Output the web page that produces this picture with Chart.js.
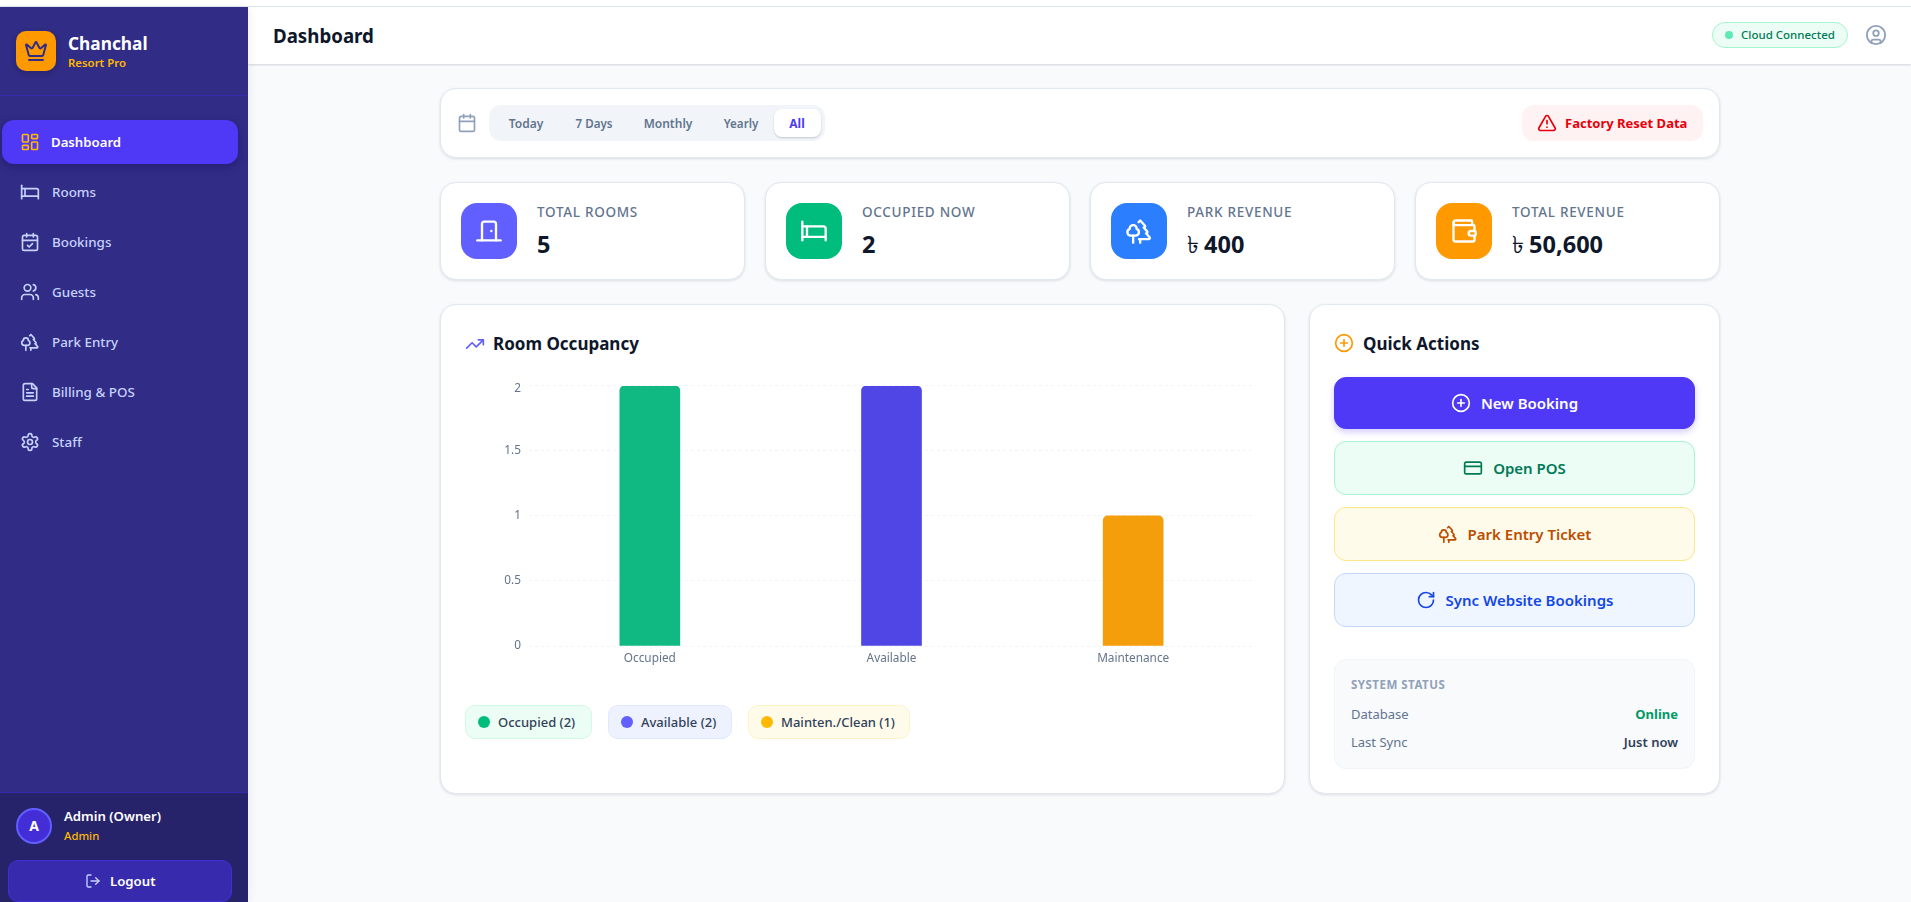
<!DOCTYPE html>
<html>
<head>
<meta charset="utf-8">
<title>Dashboard</title>
<script src="https://cdn.jsdelivr.net/npm/chart.js@4"></script>
<style>
  * { box-sizing: border-box; }
  html, body { margin: 0; width: 1911px; height: 902px; overflow: hidden; background: #f8fafc; font-family: "Noto Sans", sans-serif; color: #0f172b; }
  .abs, .card, .item, .btn, .stat-icon { position: absolute; }
  .abs { white-space: nowrap; line-height: 1; }
  .card { background: #fff; border: 1px solid #e2e8f0; border-radius: 16px; box-shadow: 0 1px 3px rgba(15,23,42,.12); }
  svg { fill: none; stroke: currentColor; stroke-width: 2; stroke-linecap: round; stroke-linejoin: round; display: block; }
  .icon { position: absolute; }
  #sidebar { position: absolute; left: 0; top: 7px; width: 248px; height: 895px; background: #312c85; box-shadow: 2px 0 8px rgba(15,23,42,.06); }
  .item { left: 2px; width: 236px; height: 44px; border-radius: 12px; color: #c6d2ff; font-size: 13.4px; font-weight: 500; }
  .item span { position: absolute; left: 50px; top: 12px; line-height: 20px; }
  .item .icon { left: 18px; top: 12px; }
  .item.active { background: #4f39f6; color: #fff; font-size: 13.2px; font-weight: 600; box-shadow: 0 3px 8px rgba(20,15,90,.4); }
  .item.active span { left: 49px; }
  .item.active .icon { color: #ffb900; }
  .btn { left: 1334px; width: 361px; border-radius: 12px; border: 1px solid; display: flex; align-items: center; justify-content: center; gap: 10px; font-size: 15px; font-weight: 600; }
  .stat-icon { top: 203px; width: 56px; height: 56px; border-radius: 16px; color: #fff; }
  .stat-icon .icon { left: 14px; top: 14px; }
  .stat-label { top: 206px; font-size: 13.5px; font-weight: 500; color: #62748e; letter-spacing: .7px; }
  .stat-value { top: 233px; font-size: 23.5px; font-weight: 700; color: #0f172b; }
  .stat-value b { font-weight: 400; margin-right: -1px; }
  .range { top: 118px; font-size: 12px; font-weight: 600; color: #62748e; transform: translateX(-50%); }
  .pill { position: absolute; top: 705px; height: 34px; border-radius: 10px; border: 1px solid; font-size: 13px; font-weight: 500; color: #314158; line-height: 32px; padding-left: 32px; }
  .pill i { position: absolute; left: 12px; top: 10px; width: 12px; height: 12px; border-radius: 50%; }
</style>
</head>
<body>
<div class="abs" style="left:0;top:0;width:1911px;height:7px;background:#fff;border-bottom:1px solid #e2e8f0"></div>

<!-- header -->
<div class="abs" style="left:248px;top:7px;width:1663px;height:57px;background:#fff;box-shadow:0 1px 2px rgba(15,23,42,.16)"></div>
<div class="abs" style="left:273px;top:27px;font-size:18.7px;font-weight:700">Dashboard</div>
<div class="abs" style="left:1712px;top:22px;width:136px;height:26px;background:#ecfdf5;border:1px solid #a4f4cf;border-radius:13px"></div>
<div class="abs" style="left:1725px;top:31px;width:8px;height:8px;border-radius:50%;background:#5ee9b5"></div>
<div class="abs" style="left:1741px;top:29px;font-size:11.5px;font-weight:500;color:#007a55">Cloud Connected</div>
<div class="icon" data-i="user" data-s="22" style="left:1865px;top:24px;color:#90a1b9"></div>

<!-- sidebar -->
<div id="sidebar"></div>
<div class="abs" style="left:0;top:95px;width:248px;height:1px;background:#372aac"></div>
<div class="abs" style="left:16px;top:31px;width:40px;height:40px;border-radius:10px;background:#fe9a00;box-shadow:0 2px 6px rgba(0,0,0,.2)"></div>
<div class="icon" data-i="crown" data-s="24" style="left:24px;top:39px;color:#312c85"></div>
<div class="abs" style="left:68px;top:35px;font-size:17.3px;font-weight:700;color:#fff">Chanchal</div>
<div class="abs" style="left:68px;top:57px;font-size:11.4px;font-weight:600;color:#ffb900">Resort Pro</div>

<div class="item active" style="top:120px"><div class="icon" data-i="dash" data-s="20"></div><span>Dashboard</span></div>
<div class="item" style="top:170px"><div class="icon" data-i="bed" data-s="20"></div><span>Rooms</span></div>
<div class="item" style="top:220px"><div class="icon" data-i="calcheck" data-s="20"></div><span>Bookings</span></div>
<div class="item" style="top:270px"><div class="icon" data-i="users" data-s="20"></div><span>Guests</span></div>
<div class="item" style="top:320px"><div class="icon" data-i="trees" data-s="20"></div><span>Park Entry</span></div>
<div class="item" style="top:370px"><div class="icon" data-i="file" data-s="20"></div><span>Billing &amp; POS</span></div>
<div class="item" style="top:420px"><div class="icon" data-i="gear" data-s="20"></div><span>Staff</span></div>

<div class="abs" style="left:0;top:792px;width:248px;height:110px;background:#27236a;border-top:1px solid #372aac"></div>
<div class="abs" style="left:16px;top:808px;width:36px;height:36px;border-radius:50%;background:#432dd7;border:2px solid #615fff;color:#fff;font-size:14px;font-weight:700;text-align:center;line-height:32px">A</div>
<div class="abs" style="left:64px;top:810px;font-size:13.2px;font-weight:600;color:#fff">Admin (Owner)</div>
<div class="abs" style="left:64px;top:830px;font-size:11.3px;font-weight:500;color:#ffb900">Admin</div>
<div class="abs" style="left:8px;top:860px;width:224px;height:42px;border-radius:10px;background:#372aac;border:1px solid #432dd7"></div>
<div class="icon" data-i="logout" data-s="16" style="left:85px;top:873px;color:#c6d2ff"></div>
<div class="abs" style="left:110px;top:875px;font-size:13.2px;font-weight:600;color:#fff">Logout</div>

<!-- filter bar -->
<div class="card" style="left:440px;top:88px;width:1280px;height:70px"></div>
<div class="icon" data-i="cal" data-s="20" style="left:457px;top:113px;color:#90a1b9"></div>
<div class="abs" style="left:489px;top:105px;width:336px;height:36px;border-radius:12px;background:#f1f5f9"></div>
<div class="abs" style="left:774px;top:109px;width:47px;height:28px;border-radius:8px;background:#fff;box-shadow:0 1px 2px rgba(15,23,42,.2)"></div>
<div class="abs range" style="left:526px">Today</div>
<div class="abs range" style="left:594px;font-size:11.6px">7 Days</div>
<div class="abs range" style="left:668px">Monthly</div>
<div class="abs range" style="left:741px;font-size:11.6px">Yearly</div>
<div class="abs range" style="left:797px;color:#4f39f6;font-weight:700">All</div>
<div class="abs" style="left:1522px;top:105px;width:181px;height:36px;border-radius:12px;background:#fef2f2"></div>
<div class="icon" data-i="alert" data-s="20" style="left:1537px;top:113px;color:#e7000b"></div>
<div class="abs" style="left:1565px;top:117px;font-size:13px;font-weight:700;color:#e7000b">Factory Reset Data</div>

<!-- stat cards -->
<div class="card" style="left:440px;top:182px;width:305px;height:98px"></div>
<div class="card" style="left:765px;top:182px;width:305px;height:98px"></div>
<div class="card" style="left:1090px;top:182px;width:305px;height:98px"></div>
<div class="card" style="left:1415px;top:182px;width:305px;height:98px"></div>
<div class="stat-icon" style="left:461px;background:#615fff"><div class="icon" data-i="door" data-s="28"></div></div>
<div class="stat-icon" style="left:786px;background:#00bc7d"><div class="icon" data-i="bed" data-s="28"></div></div>
<div class="stat-icon" style="left:1111px;background:#2b7fff"><div class="icon" data-i="trees" data-s="28"></div></div>
<div class="stat-icon" style="left:1436px;background:#fe9a00"><div class="icon" data-i="wallet" data-s="28"></div></div>
<div class="abs stat-label" style="left:537px">TOTAL ROOMS</div>
<div class="abs stat-label" style="left:862px">OCCUPIED NOW</div>
<div class="abs stat-label" style="left:1187px">PARK REVENUE</div>
<div class="abs stat-label" style="left:1512px">TOTAL REVENUE</div>
<div class="abs stat-value" style="left:537px">5</div>
<div class="abs stat-value" style="left:862px">2</div>
<div class="abs stat-value" style="left:1187px"><b>৳</b> 400</div>
<div class="abs stat-value" style="left:1512px"><b>৳</b> 50,600</div>

<!-- chart card -->
<div class="card" style="left:440px;top:304px;width:845px;height:490px"></div>
<div class="icon" data-i="trend" data-s="20" style="left:465px;top:334px;color:#615fff"></div>
<div class="abs" style="left:493px;top:335px;font-size:17px;font-weight:700;color:#0f172b">Room Occupancy</div>
<div style="position:absolute;left:464px;top:372px;width:800px;height:308px"><canvas id="occupancyChart"></canvas></div>
<div id="legendRow"></div>

<!-- quick actions -->
<div class="card" style="left:1309px;top:304px;width:411px;height:490px"></div>
<div class="icon" data-i="plus" data-s="20" style="left:1334px;top:333px;color:#fe9a00"></div>
<div class="abs" style="left:1363px;top:335px;font-size:17px;font-weight:700;color:#0f172b">Quick Actions</div>
<div class="btn" style="top:377px;height:52px;background:#4f39f6;border-color:#4f39f6;color:#fff;box-shadow:0 3px 6px rgba(79,57,246,.25)"><div data-i="plus" data-s="20"></div>New Booking</div>
<div class="btn" style="top:441px;height:54px;background:#ecfdf5;border-color:#a4f4cf;color:#007a55"><div data-i="card" data-s="20"></div>Open POS</div>
<div class="btn" style="top:507px;height:54px;background:#fffbeb;border-color:#fee685;color:#bb4d00"><div data-i="trees" data-s="20"></div>Park Entry Ticket</div>
<div class="btn" style="top:573px;height:54px;background:#eff6ff;border-color:#bedbff;color:#1447e6"><div data-i="sync" data-s="20"></div>Sync Website Bookings</div>
<div class="abs" style="left:1334px;top:659px;width:361px;height:110px;border-radius:12px;background:#f8fafc;border:1px solid #f1f5f9"></div>
<div class="abs" style="left:1351px;top:679px;font-size:11.5px;font-weight:700;color:#90a1b9;letter-spacing:.5px">SYSTEM STATUS</div>
<div class="abs" style="left:1351px;top:708px;font-size:13px;color:#62748e">Database</div>
<div class="abs" style="right:233px;top:708px;font-size:13px;font-weight:700;color:#009966">Online</div>
<div class="abs" style="left:1351px;top:736px;font-size:13px;color:#62748e">Last Sync</div>
<div class="abs" style="right:233px;top:736px;font-size:13px;font-weight:600;color:#314158">Just now</div>

<script>
// chart data
const categories = ['Occupied', 'Available', 'Maintenance'];
const roomCounts = [2, 2, 1];
const barColors = ['#10b981', '#4f46e5', '#f59e0b'];
const yTicks = [0, 0.5, 1, 1.5, 2];

// legend chips under the chart
const legendNames = ['Occupied', 'Available', 'Mainten./Clean'];
const legendLeft = [465, 608, 748];
const legendWidth = [127, 124, 162];
const legendBg = ['#ecfdf5', '#eef2ff', '#fffbeb'];
const legendBorder = ['#d0fae5', '#e0e7ff', '#fef3c6'];
const legendDot = ['#00bc7d', '#615fff', '#ffb900'];

const icons = {
  crown: '<path d="M11.562 3.266a.5.5 0 0 1 .876 0L15.39 8.87a1 1 0 0 0 1.516.294L21.183 5.5a.5.5 0 0 1 .798.519l-2.834 10.246a1 1 0 0 1-.956.734H5.81a1 1 0 0 1-.957-.734L2.02 6.02a.5.5 0 0 1 .798-.519l4.276 3.664a1 1 0 0 0 1.516-.294z"/><path d="M5 21h14"/>',
  dash: '<rect x="3" y="3" width="7" height="9" rx="1"/><rect x="14" y="3" width="7" height="5" rx="1"/><rect x="14" y="12" width="7" height="9" rx="1"/><rect x="3" y="16" width="7" height="5" rx="1"/>',
  bed: '<path d="M2 4v16"/><path d="M2 8h18a2 2 0 0 1 2 2v10"/><path d="M2 17h20"/><path d="M6 8v9"/>',
  calcheck: '<path d="M8 2v4"/><path d="M16 2v4"/><rect x="3" y="4" width="18" height="18" rx="2"/><path d="M3 10h18"/><path d="m9 16 2 2 4-4"/>',
  cal: '<path d="M8 2v4"/><path d="M16 2v4"/><rect x="3" y="4" width="18" height="18" rx="2"/><path d="M3 10h18"/>',
  users: '<path d="M16 21v-2a4 4 0 0 0-4-4H6a4 4 0 0 0-4 4v2"/><circle cx="9" cy="7" r="4"/><path d="M22 21v-2a4 4 0 0 0-3-3.87"/><path d="M16 3.13a4 4 0 0 1 0 7.75"/>',
  trees: '<path d="M10 10v.2A3 3 0 0 1 8.9 16H5a3 3 0 0 1-1-5.8V10a3 3 0 0 1 6 0Z"/><path d="M7 16v6"/><path d="M13 19v3"/><path d="M12 19h8.3a1 1 0 0 0 .7-1.7L18 14h.3a1 1 0 0 0 .7-1.7L16 9h.2a1 1 0 0 0 .8-1.7L13 3l-1.4 1.5"/>',
  file: '<path d="M15 2H6a2 2 0 0 0-2 2v16a2 2 0 0 0 2 2h12a2 2 0 0 0 2-2V7Z"/><path d="M14 2v4a2 2 0 0 0 2 2h4"/><path d="M10 9H8"/><path d="M16 13H8"/><path d="M16 17H8"/>',
  gear: '<path d="M12.22 2h-.44a2 2 0 0 0-2 2v.18a2 2 0 0 1-1 1.73l-.43.25a2 2 0 0 1-2 0l-.15-.08a2 2 0 0 0-2.73.73l-.22.38a2 2 0 0 0 .73 2.73l.15.1a2 2 0 0 1 1 1.72v.51a2 2 0 0 1-1 1.74l-.15.09a2 2 0 0 0-.73 2.73l.22.38a2 2 0 0 0 2.73.73l.15-.08a2 2 0 0 1 2 0l.43.25a2 2 0 0 1 1 1.73V20a2 2 0 0 0 2 2h.44a2 2 0 0 0 2-2v-.18a2 2 0 0 1 1-1.73l.43-.25a2 2 0 0 1 2 0l.15.08a2 2 0 0 0 2.73-.73l.22-.39a2 2 0 0 0-.73-2.73l-.15-.08a2 2 0 0 1-1-1.74v-.5a2 2 0 0 1 1-1.74l.15-.09a2 2 0 0 0 .73-2.73l-.22-.38a2 2 0 0 0-2.73-.73l-.15.08a2 2 0 0 1-2 0l-.43-.25a2 2 0 0 1-1-1.73V4a2 2 0 0 0-2-2z"/><circle cx="12" cy="12" r="3"/>',
  logout: '<path d="M9 21H5a2 2 0 0 1-2-2V5a2 2 0 0 1 2-2h4"/><path d="m16 17 5-5-5-5"/><path d="M21 12H9"/>',
  alert: '<path d="m21.73 18-8-14a2 2 0 0 0-3.48 0l-8 14A2 2 0 0 0 4 21h16a2 2 0 0 0 1.73-3"/><path d="M12 9v4"/><path d="M12 17h.01"/>',
  door: '<path d="M18 20V6a2 2 0 0 0-2-2H8a2 2 0 0 0-2 2v14"/><path d="M2 20h20"/><path d="M14 12v.01"/>',
  wallet: '<path d="M19 7V4a1 1 0 0 0-1-1H5a2 2 0 0 0 0 4h15a1 1 0 0 1 1 1v4h-3a2 2 0 0 0 0 4h3a1 1 0 0 0 1-1v-2a1 1 0 0 0-1-1"/><path d="M3 5v14a2 2 0 0 0 2 2h15a1 1 0 0 0 1-1v-4"/>',
  trend: '<polyline points="22 7 13.5 15.5 8.5 10.5 2 17"/><polyline points="16 7 22 7 22 13"/>',
  plus: '<circle cx="12" cy="12" r="10"/><path d="M8 12h8"/><path d="M12 8v8"/>',
  card: '<rect x="2" y="5" width="20" height="14" rx="2"/><line x1="2" y1="10" x2="22" y2="10"/>',
  sync: '<path d="M21 12a9 9 0 1 1-9-9c2.52 0 4.93 1 6.74 2.74L21 8"/><path d="M21 3v5h-5"/>',
  user: '<circle cx="12" cy="12" r="10"/><circle cx="12" cy="10" r="3"/><path d="M7 20.662V19a2 2 0 0 1 2-2h6a2 2 0 0 1 2 2v1.662"/>'
};

document.querySelectorAll('[data-i]').forEach(function(el){
  const s = el.dataset.s;
  el.innerHTML = '<svg width="' + s + '" height="' + s + '" viewBox="0 0 24 24">' + icons[el.dataset.i] + '</svg>';
});

// the chips take their counts from the same data as the bars
legendNames.forEach(function(name, i){
  const pill = document.createElement('div');
  pill.className = 'pill';
  pill.style.left = legendLeft[i] + 'px';
  pill.style.width = legendWidth[i] + 'px';
  pill.style.background = legendBg[i];
  pill.style.borderColor = legendBorder[i];
  pill.innerHTML = '<i style="background:' + legendDot[i] + '"></i>' + name + ' (' + roomCounts[i] + ')';
  document.getElementById('legendRow').appendChild(pill);
});

new Chart(document.getElementById('occupancyChart'), {
  type: 'bar',
  data: {
    labels: categories,
    datasets: [{
      data: roomCounts,
      backgroundColor: barColors,
      barThickness: 60,
      borderRadius: { topLeft: 5, topRight: 5, bottomLeft: 0, bottomRight: 0 },
      borderSkipped: false
    }]
  },
  options: {
    responsive: true,
    maintainAspectRatio: false,
    animation: false,
    layout: { padding: { top: 0, right: 10, left: 0, bottom: 0 } },
    plugins: { legend: { display: false }, tooltip: { enabled: false } },
    scales: {
      x: {
        grid: { display: false, drawTicks: false },
        border: { display: false },
        ticks: { color: '#64748b', font: { family: '"Noto Sans"', size: 11.8 }, padding: 6, maxRotation: 0 },
        afterFit: function(scale){ scale.height = 34; }
      },
      y: {
        min: 0,
        max: 2,
        afterBuildTicks: function(scale){ scale.ticks = yTicks.map(function(v){ return { value: v }; }); },
        grid: { color: '#f1f5f9', drawTicks: false },
        border: { display: false, dash: [3, 3] },
        ticks: {
          color: '#64748b',
          padding: 8,
          // top label sits a little under its grid line in the original
          callback: function(v){ return v === 2 ? ['', '2'] : v; },
          font: function(ctx){
            return { family: '"Noto Sans"', size: 11.8, lineHeight: ctx.tick && ctx.tick.value === 2 ? 0.5 : 1.2 };
          }
        },
        afterFit: function(scale){ scale.width = 65; }
      }
    }
  }
});
</script>
</body>
</html>
